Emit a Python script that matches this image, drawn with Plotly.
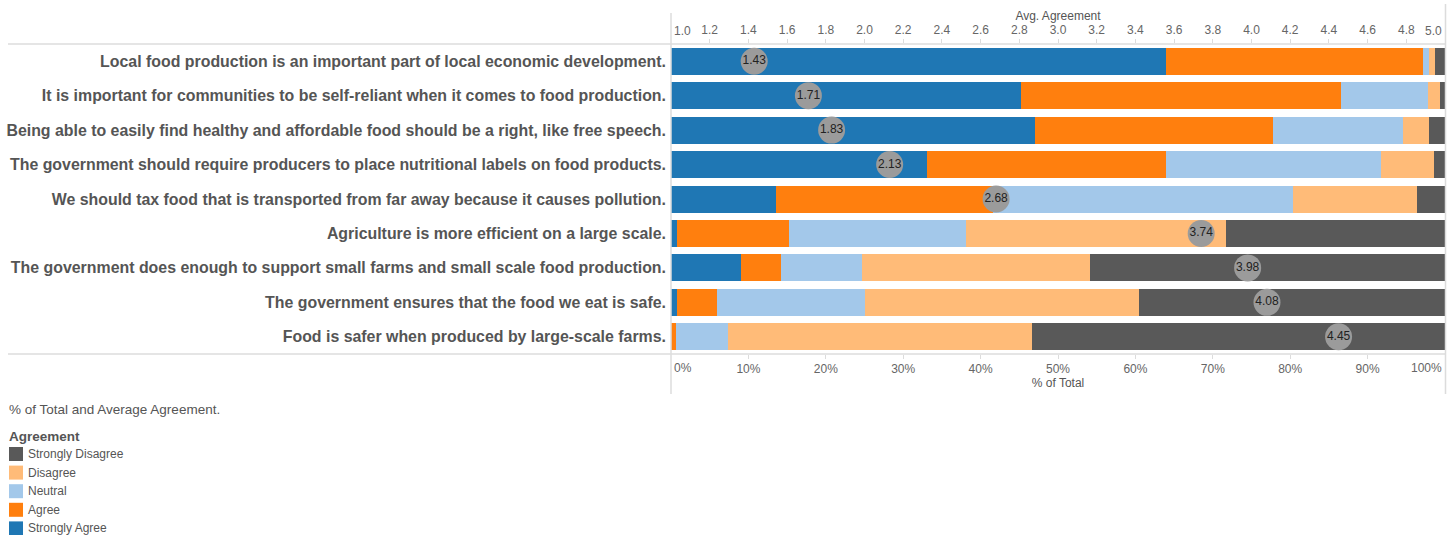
import plotly.graph_objects as go

W, H = 1455, 535

statements = [
    "Local food production is an important part of local economic development.",
    "It is important for communities to be self-reliant when it comes to food production.",
    "Being able to easily find healthy and affordable food should be a right, like free speech.",
    "The government should require producers to place nutritional labels on food products.",
    "We should tax food that is transported from far away because it causes pollution.",
    "Agriculture is more efficient on a large scale.",
    "The government does enough to support small farms and small scale food production.",
    "The government ensures that the food we eat is safe.",
    "Food is safer when produced by large-scale farms.",
]

# share of responses per statement (percent)
strongly_agree = [64.0, 45.2, 47.0, 33.1, 13.6, 0.8, 9.0, 0.8, 0.0]
agree = [33.1, 41.3, 30.8, 30.9, 28.0, 14.4, 5.2, 5.2, 0.7]
neutral = [0.8, 11.3, 16.8, 27.7, 38.7, 22.9, 10.5, 19.1, 6.6]
disagree = [0.8, 1.5, 3.3, 6.9, 16.1, 33.6, 29.4, 35.3, 39.3]
strongly_disagree = [1.3, 0.7, 2.1, 1.4, 3.6, 28.3, 45.9, 39.6, 53.4]

avg_agreement = [1.43, 1.71, 1.83, 2.13, 2.68, 3.74, 3.98, 4.08, 4.45]

levels = ["Strongly Agree", "Agree", "Neutral", "Disagree", "Strongly Disagree"]
level_values = [strongly_agree, agree, neutral, disagree, strongly_disagree]
level_colors = ["#1f77b4", "#ff7f0e", "#a3c8ea", "#ffbb78", "#595959"]

pct_ticks = [0, 10, 20, 30, 40, 50, 60, 70, 80, 90, 100]
avg_ticks = [1.0, 1.2, 1.4, 1.6, 1.8, 2.0, 2.2, 2.4, 2.6, 2.8, 3.0,
             3.2, 3.4, 3.6, 3.8, 4.0, 4.2, 4.4, 4.6, 4.8, 5.0]

FONT = "Arial, 'Liberation Sans', sans-serif"
LINE = "#dcdcdc"


def px(x):
    return x / W


def py(y):
    return 1 - y / H


fig = go.Figure()

for name, vals, color in zip(levels, level_values, level_colors):
    fig.add_trace(go.Bar(
        x=[v / 100 for v in vals], y=statements, orientation="h",
        name=name, marker=dict(color=color, line=dict(width=0)),
        xaxis="x", yaxis="y", showlegend=False,
    ))

fig.add_trace(go.Scatter(
    x=avg_agreement, y=statements, xaxis="x2", yaxis="y",
    mode="markers+text",
    marker=dict(size=27, color="#9b9b9b", line=dict(width=0)),
    text=[f"{v:.2f}" for v in avg_agreement],
    textposition="middle center",
    textfont=dict(family=FONT, size=12, color="#222222"),
    showlegend=False,
))

x_domain = [px(671), px(1445)]
inner_pct = pct_ticks[1:-1]
inner_avg = avg_ticks[1:-1]

fig.update_layout(
    width=W, height=H, autosize=False,
    margin=dict(l=0, r=0, t=0, b=0),
    paper_bgcolor="white", plot_bgcolor="white",
    barmode="stack", bargap=0.216,
    font=dict(family=FONT, color="#555555"),
    xaxis=dict(
        domain=x_domain, range=[0, 1], anchor="y", side="bottom",
        tickvals=[t / 100 for t in inner_pct],
        ticktext=[f"{t}%" for t in inner_pct],
        ticks="outside", ticklen=4, tickcolor=LINE,
        tickfont=dict(size=12, color="#666666"),
        showgrid=False, zeroline=False, showline=False,
        title=dict(text="% of Total", font=dict(size=12, color="#555555"), standoff=2),
        fixedrange=True,
    ),
    xaxis2=dict(
        domain=x_domain, range=[1, 5], overlaying="x", anchor="y", side="top",
        tickvals=inner_avg,
        ticktext=[f"{t:.1f}" for t in inner_avg],
        ticks="outside", ticklen=4, tickcolor=LINE,
        tickfont=dict(size=12, color="#666666"),
        showgrid=False, zeroline=False, showline=False,
        title=dict(text="Avg. Agreement", font=dict(size=12, color="#555555"), standoff=0),
        fixedrange=True,
    ),
    yaxis=dict(
        domain=[py(354), py(44)], type="category",
        categoryorder="array", categoryarray=statements,
        range=[len(statements) - 0.5, -0.5],
        ticks="", showgrid=False, zeroline=False, showline=False,
        tickfont=dict(size=15.9, color="#555555", weight="bold"),
        ticklabelstandoff=4,
        fixedrange=True,
    ),
)

annotations = []
# end labels on both value axes sit inside the pane edges
for xref, val, txt, anchor, ycen in [
    ("x2", 1.0, f"{avg_ticks[0]:.1f}", "left", 31),
    ("x2", 5.0, f"{avg_ticks[-1]:.1f}", "right", 31),
    ("x", 0.0, f"{pct_ticks[0]}%", "left", 368),
    ("x", 1.0, f"{pct_ticks[-1]}%", "right", 368),
]:
    annotations.append(dict(
        x=val, y=py(ycen), xref=xref, yref="paper", text=txt,
        showarrow=False, xanchor=anchor, yanchor="middle",
        xshift=1 if anchor == "left" else -1,
        font=dict(size=12, color="#666666"),
    ))

annotations.append(dict(
    x=px(7), y=py(409), xref="paper", yref="paper",
    text="% of Total and Average Agreement.", showarrow=False,
    xanchor="left", yanchor="middle", font=dict(size=13.5, color="#555555"),
))
annotations.append(dict(
    x=px(7), y=py(436.5), xref="paper", yref="paper",
    text="Agreement", showarrow=False, xanchor="left", yanchor="middle",
    font=dict(size=13.5, color="#555555", weight="bold"),
))

shapes = [
    dict(type="line", xref="paper", yref="paper", x0=px(8), x1=px(1445),
         y0=py(44), y1=py(44), line=dict(color=LINE, width=1.5)),
    dict(type="line", xref="paper", yref="paper", x0=px(8), x1=px(1445),
         y0=py(354), y1=py(354), line=dict(color=LINE, width=1.5)),
    dict(type="line", xref="paper", yref="paper", x0=px(671), x1=px(671),
         y0=py(13), y1=py(394), line=dict(color=LINE, width=1.5)),
    dict(type="line", xref="paper", yref="paper", x0=px(1445.5), x1=px(1445.5),
         y0=py(4), y1=py(394), line=dict(color=LINE, width=1.5)),
]

# legend: darkest level first
legend_y0, legend_step = 454, 18.6
for i, (name, color) in enumerate(zip(levels[::-1], level_colors[::-1])):
    yc = legend_y0 + i * legend_step
    shapes.append(dict(
        type="rect", xref="paper", yref="paper",
        x0=px(9), x1=px(23), y0=py(yc - 7), y1=py(yc + 7),
        fillcolor=color, line=dict(width=0),
    ))
    annotations.append(dict(
        x=px(26), y=py(yc), xref="paper", yref="paper", text=name,
        showarrow=False, xanchor="left", yanchor="middle",
        font=dict(size=12, color="#555555"),
    ))

fig.update_layout(annotations=annotations, shapes=shapes)

fig.write_html("out.html")
